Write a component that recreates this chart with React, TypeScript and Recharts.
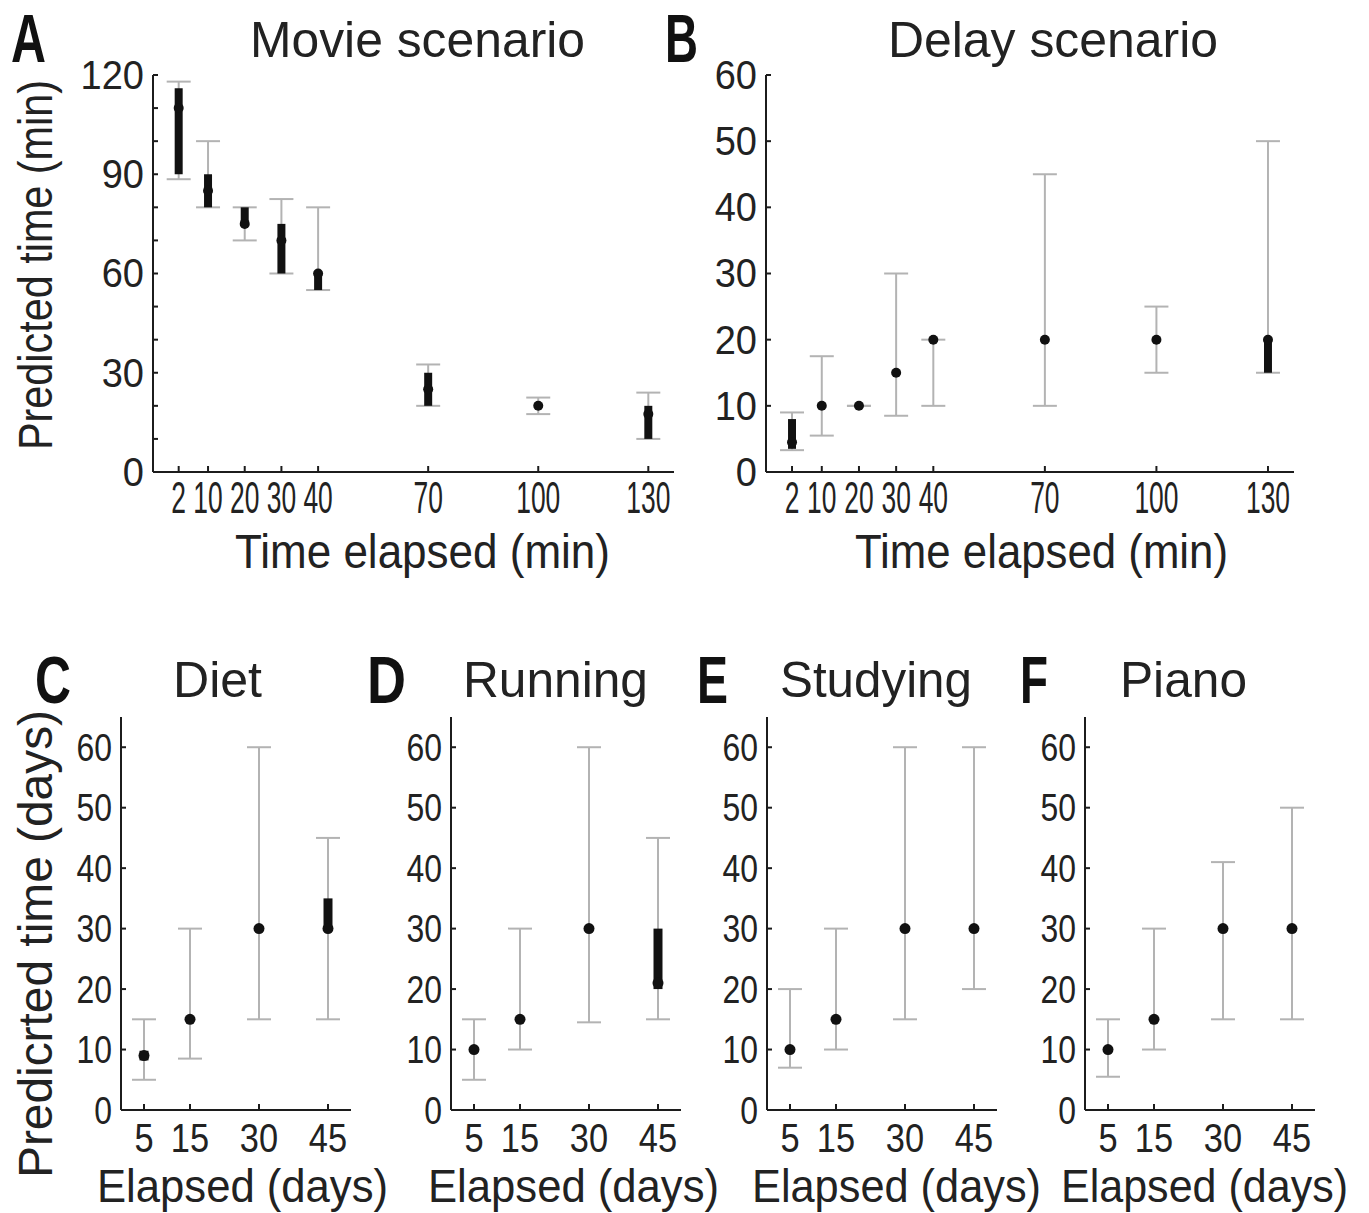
import React from 'react';
import { ScatterChart, Scatter, XAxis, YAxis, ErrorBar } from 'recharts';

// A: movie scenario (minutes)
const movieElapsed = [2, 10, 20, 30, 40, 70, 100, 130];
const movieMedian = [110, 85, 75, 70, 60, 25, 20, 17.5];
const movieLow = [88.5, 80, 70, 60, 55, 20, 17.5, 10];
const movieHigh = [118, 100, 80, 82.5, 80, 32.5, 22.5, 24];
const movieBoxLow = [90, 80, 75, 60, 55, 20, 20, 10];
const movieBoxHigh = [116, 90, 80, 75, 60, 30, 20, 20];

// B: delay scenario (minutes)
const delayElapsed = [2, 10, 20, 30, 40, 70, 100, 130];
const delayMedian = [4.5, 10, 10, 15, 20, 20, 20, 20];
const delayLow = [3.3, 5.5, 10, 8.5, 10, 10, 15, 15];
const delayHigh = [9, 17.5, 10, 30, 20, 45, 25, 50];
const delayBoxLow = [3.5, 10, 10, 15, 20, 20, 20, 15];
const delayBoxHigh = [8, 10, 10, 15, 20, 20, 20, 20];

// C-F: elapsed days
const daysElapsed = [5, 15, 30, 45];

const dietMedian = [9, 15, 30, 30];
const dietLow = [5, 8.5, 15, 15];
const dietHigh = [15, 30, 60, 45];
const dietBoxLow = [8.2, 15, 30, 30];
const dietBoxHigh = [9.8, 15, 30, 35];

const runningMedian = [10, 15, 30, 21];
const runningLow = [5, 10, 14.5, 15];
const runningHigh = [15, 30, 60, 45];
const runningBoxLow = [10, 15, 30, 20];
const runningBoxHigh = [10, 15, 30, 30];

const studyingMedian = [10, 15, 30, 30];
const studyingLow = [7, 10, 15, 20];
const studyingHigh = [20, 30, 60, 60];
const studyingBoxLow = [10, 15, 30, 30];
const studyingBoxHigh = [10, 15, 30, 30];

const pianoMedian = [10, 15, 30, 30];
const pianoLow = [5.5, 10, 15, 15];
const pianoHigh = [15, 30, 41, 50];
const pianoBoxLow = [10, 15, 30, 30];
const pianoBoxHigh = [10, 15, 30, 30];

const minuteTicks = [2, 10, 20, 30, 40, 70, 100, 130];
const movieYTicks = [0, 10, 20, 30, 40, 50, 60, 70, 80, 90, 100, 110, 120];
const delayYTicks = [0, 10, 20, 30, 40, 50, 60];
const dayTicks = [5, 15, 30, 45];
const dayYTicks = [0, 10, 20, 30, 40, 50, 60];

const FONT = "'Liberation Sans', Arial, sans-serif";
const AXIS = '#1c1c1c';
const WHISKER = '#b3b3b3';
const INK = '#111';
const PAD_TOP = 36;

function rows(x: number[], med: number[], lo: number[], hi: number[], bLo: number[], bHi: number[]) {
  return x.map((v, i) => ({
    x: v,
    median: med[i],
    whisker: [med[i] - lo[i], hi[i] - med[i]],
    box: [med[i] - bLo[i], bHi[i] - med[i]],
  }));
}

interface PanelProps {
  data: any[];
  x0: number;
  y0: number;
  plotW: number;
  plotH: number;
  xDomain: [number, number];
  xTicks: number[];
  yDomain: [number, number];
  yTicks: number[];
  labelEvery: number;
  yFont: number;
  ySx: number;
  xFont: number;
  xSx: number;
  xDy: number;
  dotR: number;
  boxW: number;
}

function Panel(p: PanelProps) {
  const left = 90;
  const axisY = PAD_TOP + p.plotH;

  const yTick = (t: any) => {
    const v = t.payload.value;
    return (
      <g>
        <line x1={left} x2={left + 5} y1={t.y} y2={t.y} stroke={AXIS} strokeWidth={2} />
        {v % p.labelEvery === 0 && (
          <text
            transform={`translate(${left - 9},${t.y}) scale(${p.ySx},1)`}
            textAnchor="end"
            dominantBaseline="central"
            fontFamily={FONT}
            fontSize={p.yFont}
            fill="#222"
          >
            {v}
          </text>
        )}
      </g>
    );
  };

  const xTick = (t: any) => (
    <g>
      <line x1={t.x} x2={t.x} y1={axisY} y2={axisY - 6} stroke={AXIS} strokeWidth={2} />
      <text
        transform={`translate(${t.x},${axisY + p.xDy}) scale(${p.xSx},1)`}
        textAnchor="middle"
        fontFamily={FONT}
        fontSize={p.xFont}
        fill="#222"
      >
        {t.payload.value}
      </text>
    </g>
  );

  const dot = (s: any) => <circle cx={s.cx} cy={s.cy} r={p.dotR} fill={INK} />;

  return (
    <div style={{ position: 'absolute', left: p.x0 - left, top: p.y0 - PAD_TOP }}>
      <ScatterChart
        width={p.plotW + left + 20}
        height={p.plotH + PAD_TOP + 70}
        margin={{ top: PAD_TOP, right: 20, bottom: 0, left: 0 }}
      >
        <XAxis
          type="number"
          dataKey="x"
          domain={p.xDomain}
          ticks={p.xTicks}
          interval={0}
          allowDataOverflow
          height={70}
          axisLine={{ stroke: AXIS, strokeWidth: 2 }}
          tickLine={false}
          tick={xTick}
        />
        <YAxis
          type="number"
          dataKey="median"
          domain={p.yDomain}
          ticks={p.yTicks}
          interval={0}
          allowDataOverflow
          width={left}
          axisLine={{ stroke: AXIS, strokeWidth: 2 }}
          tickLine={false}
          tick={yTick}
        />
        <Scatter data={p.data} isAnimationActive={false} shape={dot}>
          <ErrorBar dataKey="whisker" direction="y" width={12} stroke={WHISKER} strokeWidth={2} isAnimationActive={false} />
          <ErrorBar dataKey="box" direction="y" width={0} stroke={INK} strokeWidth={p.boxW} isAnimationActive={false} />
        </Scatter>
      </ScatterChart>
    </div>
  );
}

const T = (props: { x: number; y: number; w: number; size: number; bold?: boolean; children: string }) => (
  <text
    x={props.x}
    y={props.y}
    fontFamily={FONT}
    fontSize={props.size}
    fontWeight={props.bold ? 'bold' : 'normal'}
    textLength={props.w}
    lengthAdjust="spacingAndGlyphs"
    fill={props.bold ? '#111' : '#222'}
  >
    {props.children}
  </text>
);

const bottomCommon = {
  y0: 717,
  plotW: 230,
  plotH: 393,
  xDomain: [0, 50] as [number, number],
  xTicks: dayTicks,
  yDomain: [0, 65] as [number, number],
  yTicks: dayYTicks,
  labelEvery: 10,
  yFont: 38,
  ySx: 0.84,
  xFont: 40,
  xSx: 0.86,
  xDy: 42,
  dotR: 5.5,
  boxW: 9,
};

export default function App() {
  const movie = rows(movieElapsed, movieMedian, movieLow, movieHigh, movieBoxLow, movieBoxHigh);
  const delay = rows(delayElapsed, delayMedian, delayLow, delayHigh, delayBoxLow, delayBoxHigh);
  const diet = rows(daysElapsed, dietMedian, dietLow, dietHigh, dietBoxLow, dietBoxHigh);
  const running = rows(daysElapsed, runningMedian, runningLow, runningHigh, runningBoxLow, runningBoxHigh);
  const studying = rows(daysElapsed, studyingMedian, studyingLow, studyingHigh, studyingBoxLow, studyingBoxHigh);
  const piano = rows(daysElapsed, pianoMedian, pianoLow, pianoHigh, pianoBoxLow, pianoBoxHigh);

  return (
    <div style={{ position: 'absolute', left: 0, top: 0, width: 1369, height: 1213, background: '#fff', overflow: 'hidden' }}>
      <Panel
        data={movie}
        x0={153}
        y0={75}
        plotW={521}
        plotH={397}
        xDomain={[-5, 137]}
        xTicks={minuteTicks}
        yDomain={[0, 120]}
        yTicks={movieYTicks}
        labelEvery={30}
        yFont={40}
        ySx={0.95}
        xFont={44}
        xSx={0.6}
        xDy={41}
        dotR={5}
        boxW={8}
      />
      <Panel
        data={delay}
        x0={766}
        y0={75}
        plotW={528}
        plotH={397}
        xDomain={[-5, 137]}
        xTicks={minuteTicks}
        yDomain={[0, 60]}
        yTicks={delayYTicks}
        labelEvery={10}
        yFont={40}
        ySx={0.95}
        xFont={44}
        xSx={0.6}
        xDy={41}
        dotR={5}
        boxW={8}
      />
      <Panel data={diet} x0={121} {...bottomCommon} />
      <Panel data={running} x0={451} {...bottomCommon} />
      <Panel data={studying} x0={767} {...bottomCommon} />
      <Panel data={piano} x0={1085} {...bottomCommon} />

      <svg width={1369} height={1213} style={{ position: 'absolute', left: 0, top: 0, pointerEvents: 'none' }}>
        <T x={11} y={62} w={35} size={68} bold>A</T>
        <T x={665} y={62} w={33} size={68} bold>B</T>
        <T x={35} y={703} w={36} size={66} bold>C</T>
        <T x={367} y={703} w={39} size={66} bold>D</T>
        <T x={697} y={703} w={31} size={66} bold>E</T>
        <T x={1020} y={703} w={28} size={66} bold>F</T>

        <T x={250} y={57} w={335} size={50}>Movie scenario</T>
        <T x={888} y={57} w={330} size={50}>Delay scenario</T>
        <T x={173} y={697} w={89} size={50}>Diet</T>
        <T x={463} y={697} w={185} size={50}>Running</T>
        <T x={780} y={697} w={192} size={50}>Studying</T>
        <T x={1120} y={697} w={127} size={50}>Piano</T>

        <T x={235} y={568} w={375} size={48}>Time elapsed (min)</T>
        <T x={855} y={568} w={373} size={48}>Time elapsed (min)</T>
        <T x={97} y={1202} w={291} size={47}>Elapsed (days)</T>
        <T x={428} y={1202} w={291} size={47}>Elapsed (days)</T>
        <T x={752} y={1202} w={289} size={47}>Elapsed (days)</T>
        <T x={1061} y={1202} w={287} size={47}>Elapsed (days)</T>

        <g transform="translate(52,265) rotate(-90)">
          <text x={-185} y={0} fontFamily={FONT} fontSize={48} textLength={370} lengthAdjust="spacingAndGlyphs" fill="#222">
            Predicted time (min)
          </text>
        </g>
        <g transform="translate(52,944) rotate(-90)">
          <text x={-234} y={0} fontFamily={FONT} fontSize={48} textLength={468} lengthAdjust="spacingAndGlyphs" fill="#222">
            Predicrted time (days)
          </text>
        </g>
      </svg>
    </div>
  );
}
